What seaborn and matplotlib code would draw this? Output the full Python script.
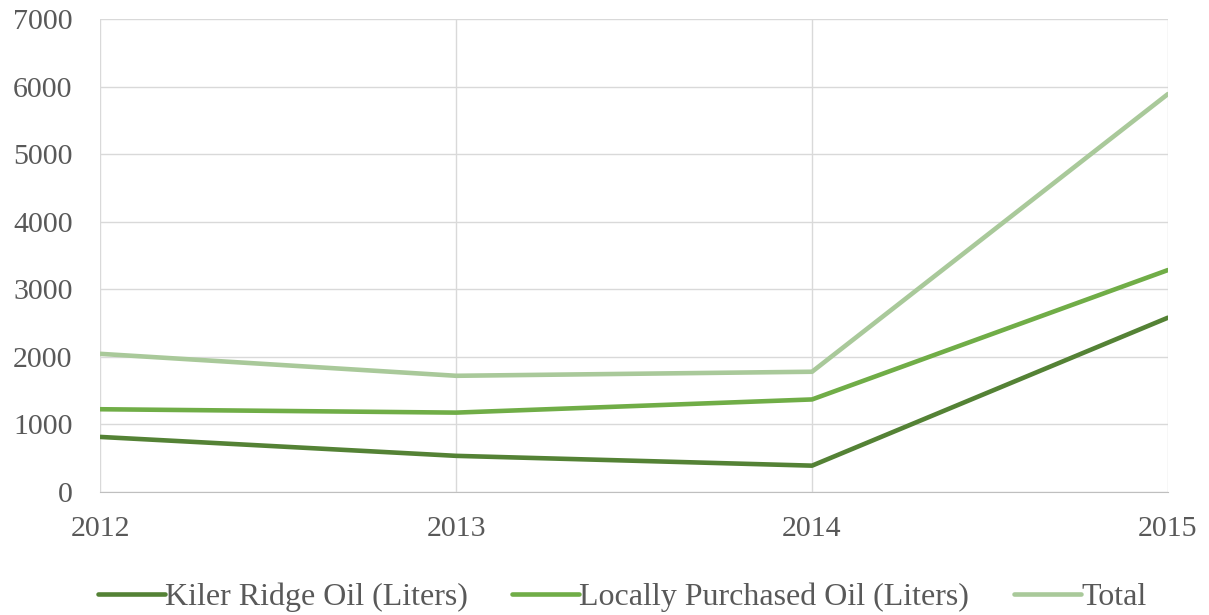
import matplotlib
matplotlib.use("Agg")
import matplotlib.pyplot as plt
import seaborn as sns
import pandas as pd

# valeurs
years = [2012, 2013, 2014, 2015]
kiler_ridge = [815, 535, 390, 2580]
locally_purchased = [1225, 1175, 1370, 3285]
total = [2045, 1720, 1780, 5890]

series_names = ["Kiler Ridge Oil (Liters)", "Locally Purchased Oil (Liters)", "Total"]
colors = ["#548235", "#70ad47", "#a9c99a"]

df = pd.DataFrame({
    "year": years * 3,
    "value": kiler_ridge + locally_purchased + total,
    "series": [series_names[0]] * 4 + [series_names[1]] * 4 + [series_names[2]] * 4,
})

sns.set_style("white")
plt.rcParams["font.family"] = ["Liberation Serif", "DejaVu Serif"]

fig = plt.figure(figsize=(12.09, 6.15), dpi=100)
ax = fig.add_axes([0.083, 0.2, 0.883, 0.769])

sns.lineplot(data=df, x="year", y="value", hue="series", palette=colors,
             linewidth=3.3, ax=ax, legend=False)

ax.set_xlim(2012, 2015)
ax.set_ylim(0, 7000)
ax.set_xticks(years)
ax.set_yticks(range(0, 7001, 1000))
ax.set_xlabel("")
ax.set_ylabel("")

ax.grid(True, color="#d9d9d9", linewidth=1)
for side in ["top", "right", "left"]:
    ax.spines[side].set_visible(False)
ax.spines["bottom"].set_color("#bfbfbf")
ax.tick_params(axis="y", length=0, pad=20, labelsize=21.5, labelcolor="#595959")
ax.tick_params(axis="x", length=0, pad=17, labelsize=21.5, labelcolor="#595959")

# legende en bas
handles = [plt.Line2D([], [], color=c, linewidth=3.3) for c in colors]
fig.legend(handles, series_names, loc="center", ncol=3, frameon=False,
           fontsize=23, handlelength=2.1, handletextpad=0.0, columnspacing=1.4,
           bbox_to_anchor=(622 / 1209, 18 / 615), labelcolor="#595959")

fig.savefig("out.png", dpi=100)
